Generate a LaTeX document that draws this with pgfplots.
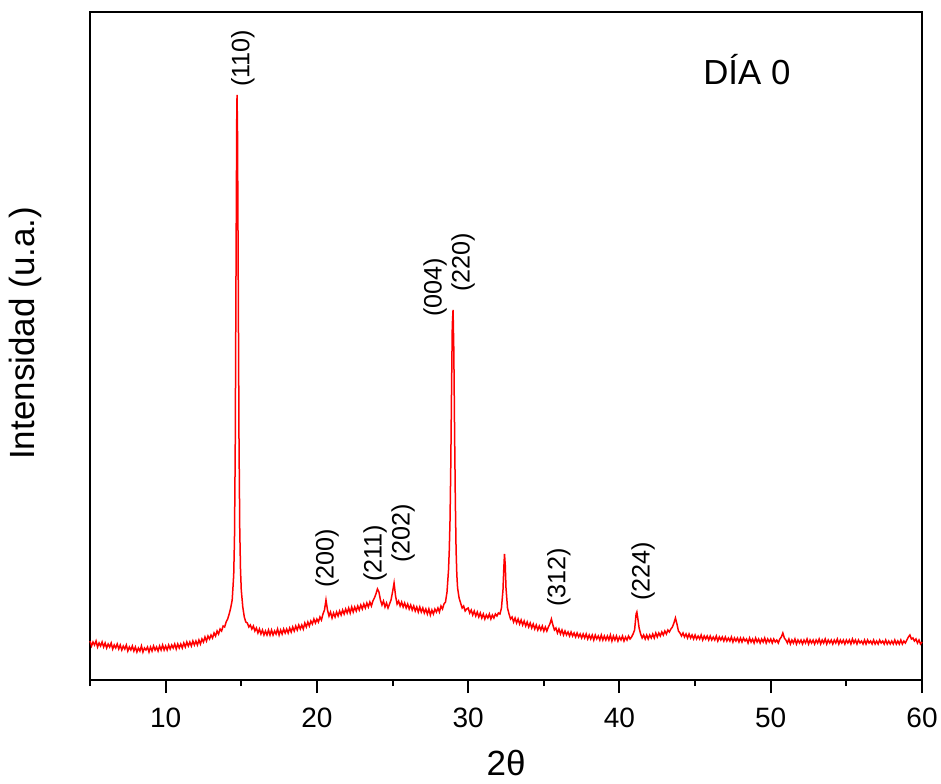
\documentclass[border=0pt]{standalone}
\usepackage{fontspec}
\setmainfont{Liberation Sans}
\usepackage{pgfplots}
\pgfplotsset{compat=1.18}

\begin{document}
\begin{tikzpicture}
\begin{axis}[scale only axis, width=416pt, height=334pt,
  xmin=5, xmax=60, ymin=0, ymax=668,
  xtick={10,20,...,60}, minor xtick={5,15,...,55}, ytick=\empty,
  xtick pos=bottom, tick align=outside,
  major tick length=6.5pt, minor tick length=3pt,
  axis line style={line width=1.1pt},
  every tick/.style={black, line width=1pt},
  /pgf/number format/assume math mode=true,
  tick label style={font=\fontsize{14}{16}\selectfont},
  xticklabel style={yshift=-4pt},
  xlabel={2θ}, ylabel={Intensidad (u.a.)},
  label style={font=\fontsize{17.5}{20}\selectfont},
  xlabel style={at={(axis description cs:0.5,0)}, anchor=base, yshift=-47.5pt},
  ylabel style={at={(axis description cs:-0.078,0.519)}, anchor=center},
  clip=false]
\addplot[red, line width=0.75pt] coordinates {
(5.0,39)(5.1,34)(5.2,38)(5.3,35)(5.4,39)(5.5,33)(5.6,37)(5.7,34)(5.8,38)(5.9,33)
(6.0,37)(6.1,32)(6.2,36)(6.3,33)(6.4,37)(6.5,31)(6.6,35)(6.7,32)(6.8,36)(6.9,31)
(7.0,35)(7.1,30)(7.2,34)(7.3,31)(7.4,35)(7.5,29)(7.6,33)(7.7,30)(7.8,34)(7.9,29)
(8.0,33)(8.1,28)(8.2,32)(8.3,29)(8.4,34)(8.5,28)(8.6,32)(8.7,30)(8.8,33)(8.9,28)
(9.0,33)(9.1,29)(9.2,34)(9.3,30)(9.4,33)(9.5,29)(9.6,34)(9.7,30)(9.8,35)(9.9,30)
(10.0,34)(10.1,30)(10.2,35)(10.3,31)(10.4,35)(10.5,32)(10.6,36)(10.7,31)(10.8,36)(10.9,32)
(11.0,36)(11.1,32)(11.2,37)(11.3,33)(11.4,38)(11.5,34)(11.6,38)(11.7,34)(11.8,39)(11.9,35)
(12.0,39)(12.1,35)(12.2,40)(12.3,36)(12.4,41)(12.5,38)(12.6,43)(12.7,39)(12.8,44)(12.9,41)
(13.0,45)(13.1,42)(13.2,47)(13.3,44)(13.4,49)(13.5,46)(13.6,51)(13.7,49)(13.8,54)(13.9,53)
(14.0,58)(14.1,61)(14.2,66)(14.3,72)(14.4,80)(14.5,105)(14.55,140)(14.6,230)(14.65,400)(14.7,560)
(14.72,585)(14.75,550)(14.8,400)(14.85,240)(14.9,150)(14.95,110)(15.0,90)(15.1,73)(15.2,63)(15.3,58)
(15.4,57)(15.5,53)(15.6,55)(15.7,51)(15.8,54)(15.9,49)
(16.0,52)(16.1,47)(16.2,51)(16.3,46)(16.4,50)(16.5,45)(16.6,49)(16.7,45)(16.8,50)(16.9,45)
(17.0,50)(17.1,45)(17.2,49)(17.3,46)(17.4,51)(17.5,45)(17.6,50)(17.7,46)(17.8,51)(17.9,47)
(18.0,51)(18.1,47)(18.2,52)(18.3,48)(18.4,53)(18.5,49)(18.6,54)(18.7,50)(18.8,55)(18.9,51)
(19.0,55)(19.1,51)(19.2,57)(19.3,53)(19.4,58)(19.5,54)(19.6,59)(19.7,56)(19.8,61)(19.9,57)
(20.0,61)(20.1,58)(20.2,63)(20.3,60)(20.4,66)(20.5,70)(20.6,80)(20.7,70)(20.8,64)(20.9,68)
(21.0,62)(21.1,67)(21.2,63)(21.3,68)(21.4,64)(21.5,69)(21.6,65)(21.7,70)(21.8,66)(21.9,71)
(22.0,67)(22.1,72)(22.2,67)(22.3,73)(22.4,68)(22.5,73)(22.6,69)(22.7,74)(22.8,70)(22.9,75)
(23.0,71)(23.1,76)(23.2,72)(23.3,77)(23.4,73)(23.5,78)(23.6,74)(23.7,79)(23.8,82)(23.9,86)
(24.0,91)(24.1,88)(24.2,80)(24.3,75)(24.4,79)(24.5,73)(24.6,77)(24.7,72)(24.8,76)(24.9,80)
(25.0,88)(25.1,97)(25.2,84)(25.3,76)(25.4,79)(25.5,74)(25.6,78)(25.7,73)(25.8,77)(25.9,72)
(26.0,76)(26.1,71)(26.2,75)(26.3,70)(26.4,74)(26.5,69)(26.6,73)(26.7,68)(26.8,73)(26.9,68)
(27.0,72)(27.1,67)(27.2,71)(27.3,66)(27.4,71)(27.5,65)(27.6,70)(27.7,66)(27.8,71)(27.9,68)
(28.0,72)(28.1,68)(28.2,74)(28.3,71)(28.4,76)(28.5,78)(28.6,88)(28.7,110)(28.75,130)(28.8,160)
(28.85,215)(28.9,290)(28.95,355)(29.0,370)(29.05,330)(29.1,250)(29.15,180)(29.2,130)(29.25,105)(29.3,92)
(29.4,82)(29.5,77)(29.6,72)(29.7,74)(29.8,69)(29.9,71)
(30.0,72)(30.1,67)(30.2,70)(30.3,65)(30.4,69)(30.5,64)(30.6,68)(30.7,63)(30.8,67)(30.9,62)
(31.0,66)(31.1,61)(31.2,65)(31.3,62)(31.4,66)(31.5,61)(31.6,65)(31.7,62)(31.8,66)(31.9,64)
(32.0,67)(32.1,66)(32.2,72)(32.3,90)(32.35,110)(32.4,126)(32.45,115)(32.5,92)(32.6,72)(32.7,66)
(32.8,61)(32.9,63)
(33.0,58)(33.1,62)(33.2,57)(33.3,61)(33.4,56)(33.5,60)(33.6,55)(33.7,59)(33.8,54)(33.9,58)
(34.0,53)(34.1,57)(34.2,52)(34.3,56)(34.4,51)(34.5,55)(34.6,50)(34.7,54)(34.8,50)(34.9,54)
(35.0,49)(35.1,53)(35.2,49)(35.3,53)(35.4,56)(35.5,61)(35.6,55)(35.7,50)(35.8,52)(35.9,47)
(36.0,51)(36.1,46)(36.2,50)(36.3,45)(36.4,49)(36.5,45)(36.6,48)(36.7,44)(36.8,48)(36.9,44)
(37.0,47)(37.1,43)(37.2,47)(37.3,43)(37.4,46)(37.5,42)(37.6,46)(37.7,42)(37.8,46)(37.9,41)
(38.0,45)(38.1,41)(38.2,45)(38.3,40)(38.4,45)(38.5,41)(38.6,44)(38.7,40)(38.8,45)(38.9,40)
(39.0,44)(39.1,40)(39.2,44)(39.3,40)(39.4,45)(39.5,39)(39.6,44)(39.7,40)(39.8,44)(39.9,39)
(40.0,43)(40.1,40)(40.2,44)(40.3,39)(40.4,43)(40.5,40)(40.6,44)(40.7,41)(40.8,43)(40.9,46)
(41.0,50)(41.05,58)(41.1,66)(41.15,68)(41.2,63)(41.3,52)(41.4,46)(41.5,42)(41.6,45)(41.7,41)
(41.8,45)(41.9,41)
(42.0,45)(42.1,42)(42.2,46)(42.3,42)(42.4,47)(42.5,43)(42.6,47)(42.7,44)(42.8,48)(42.9,45)
(43.0,49)(43.1,46)(43.2,50)(43.3,48)(43.4,51)(43.5,53)(43.6,57)(43.7,62)(43.8,56)(43.9,49)
(44.0,47)(44.1,44)(44.2,47)(44.3,43)(44.4,46)(44.5,42)(44.6,46)(44.7,42)(44.8,45)(44.9,41)
(45.0,45)(45.1,41)(45.2,44)(45.3,41)(45.4,45)(45.5,40)(45.6,44)(45.7,41)(45.8,44)(45.9,40)
(46.0,44)(46.1,40)(46.2,43)(46.3,40)(46.4,44)(46.5,39)(46.6,43)(46.7,40)(46.8,43)(46.9,39)
(47.0,43)(47.1,39)(47.2,42)(47.3,39)(47.4,43)(47.5,38)(47.6,42)(47.7,39)(47.8,42)(47.9,38)
(48.0,42)(48.1,38)(48.2,42)(48.3,39)(48.4,41)(48.5,37)(48.6,42)(48.7,38)(48.8,41)(48.9,37)
(49.0,42)(49.1,38)(49.2,41)(49.3,37)(49.4,41)(49.5,38)(49.6,42)(49.7,37)(49.8,41)(49.9,38)
(50.0,41)(50.1,37)(50.2,41)(50.3,38)(50.4,40)(50.5,37)(50.6,41)(50.7,43)(50.8,47)(50.9,42)
(51.0,40)(51.1,37)(51.2,41)(51.3,36)(51.4,40)(51.5,37)(51.6,41)(51.7,36)(51.8,40)(51.9,37)
(52.0,40)(52.1,36)(52.2,40)(52.3,37)(52.4,41)(52.5,36)(52.6,40)(52.7,37)(52.8,40)(52.9,36)
(53.0,40)(53.1,37)(53.2,41)(53.3,36)(53.4,40)(53.5,37)(53.6,41)(53.7,36)(53.8,40)(53.9,37)
(54.0,40)(54.1,36)(54.2,40)(54.3,37)(54.4,41)(54.5,36)(54.6,40)(54.7,37)(54.8,40)(54.9,36)
(55.0,40)(55.1,37)(55.2,40)(55.3,36)(55.4,41)(55.5,37)(55.6,40)(55.7,36)(55.8,40)(55.9,37)
(56.0,39)(56.1,36)(56.2,40)(56.3,36)(56.4,40)(56.5,37)(56.6,39)(56.7,36)(56.8,40)(56.9,36)
(57.0,39)(57.1,36)(57.2,40)(57.3,37)(57.4,39)(57.5,36)(57.6,40)(57.7,36)(57.8,39)(57.9,36)
(58.0,39)(58.1,36)(58.2,40)(58.3,36)(58.4,39)(58.5,36)(58.6,40)(58.7,36)(58.8,39)(58.9,37)
(59.0,40)(59.1,43)(59.2,45)(59.3,41)(59.4,42)(59.5,39)(59.6,41)(59.7,37)(59.8,40)(59.9,36)
(60.0,38)
};
\begin{scope}[every node/.style={rotate=90, anchor=west, inner sep=0pt, font=\fontsize{12.6}{14}\selectfont}]
\node at (axis cs:15.11,593) {(110)};
\node at (axis cs:20.67,92) {(200)};
\node at (axis cs:23.84,98) {(211)};
\node at (axis cs:25.69,117) {(202)};
\node at (axis cs:27.81,363) {(004)};
\node at (axis cs:29.66,388) {(220)};
\node at (axis cs:36.0,73) {(312)};
\node at (axis cs:41.56,79) {(224)};
\end{scope}
\node[anchor=base west, inner sep=0pt, font=\fontsize{17.4}{20}\selectfont] at (axis cs:45.52,596) {DÍA 0};
\end{axis}
\pgfresetboundingbox
\path ([shift={(-45pt,-51.5pt)}]current axis.south west) rectangle ([shift={(9.5pt,6pt)}]current axis.north east);
\end{tikzpicture}
\end{document}
